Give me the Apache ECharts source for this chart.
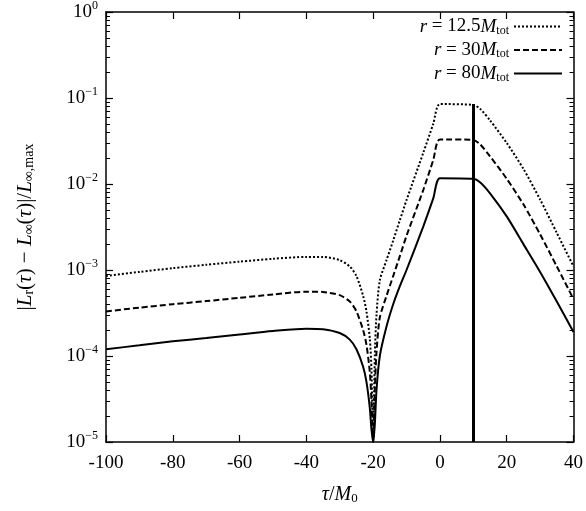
<!DOCTYPE html>
<html><head><meta charset="utf-8">
<script src="https://cdn.jsdelivr.net/npm/echarts@6/dist/echarts.min.js"></script>
<style>html,body{margin:0;padding:0;background:#fff}#c{width:586px;height:511px}</style>
</head><body><div id="c"></div>
<script>
const xs = [-100,-90,-80,-70,-60,-50,-40,-35,-30,-27,-25,-23,-22,-21,-20.5,-20,-19.5,-19,-18,-16,-14,-12,-10,-5,-2,0,10,12,15,20,25,30,35,40];
const r12 = [8.5e-4,9.5e-4,1.05e-3,1.15e-3,1.25e-3,1.35e-3,1.42e-3,1.42e-3,1.3e-3,1.1e-3,8.5e-4,5e-4,3.3e-4,1.6e-4,7e-5,1e-5,1e-4,3e-4,7.6e-4,1.3e-3,2.2e-3,3.8e-3,6.5e-3,0.023,0.05,0.085,0.083,0.075,0.055,0.03,0.015,0.0066,0.0027,0.0011];
const r30 = [3.3e-4,3.65e-4,4.0e-4,4.35e-4,4.75e-4,5.2e-4,5.6e-4,5.55e-4,5.1e-4,4.3e-4,3.3e-4,2e-4,1.35e-4,6.5e-5,3e-5,1e-5,4e-5,1.1e-4,2.8e-4,5e-4,8.5e-4,1.45e-3,2.5e-3,8.5e-3,0.019,0.033,0.0325,0.029,0.021,0.0115,0.0058,0.0026,0.0011,4.6e-4];
const r80 = [1.2e-4,1.33e-4,1.48e-4,1.62e-4,1.78e-4,1.95e-4,2.08e-4,2.05e-4,1.85e-4,1.55e-4,1.2e-4,7.5e-5,5e-5,2.5e-5,1.4e-5,1e-5,1.6e-5,4e-5,1e-4,2.2e-4,4e-4,6.5e-4,1e-3,3.2e-3,6.8e-3,0.0117,0.0115,0.0105,0.0078,0.0042,0.002,9.5e-4,4.3e-4,1.9e-4];
const xTicks = [-100,-80,-60,-40,-20,0,20,40];
const yTicks = [1e-5,1e-4,1e-3,1e-2,1e-1,1];
const peakX = 10, peakTop = 0.085;

const F = 'Liberation Serif';
const chart = echarts.init(document.getElementById('c'));
const pair = a => xs.map((x,i)=>[x,a[i]]);
const axCommon = {axisLine:{onZero:false,lineStyle:{color:'#000',width:1.5}},axisTick:{inside:true,length:7,lineStyle:{color:'#000',width:1.2}},splitLine:{show:false}};
const yLab = {fontFamily:F,fontSize:19,color:'#000',formatter:v=>'{b|10}{e|'+String(Math.round(Math.log10(v))).replace('-','−')+'}',rich:{b:{fontFamily:F,fontSize:19,color:'#000'},e:{fontFamily:F,fontSize:12,color:'#000',padding:[0,0,12,0]}}};
const mk = (name,data,type) => ({name,type:'line',data:pair(data),symbol:'none',smooth:0.25,xAxisIndex:0,yAxisIndex:0,lineStyle:{color:'#000',width:2,type},itemStyle:{color:'#000'}});
const s80 = mk('r80',r80,'solid');
s80.markLine = {symbol:'none',silent:true,label:{show:false},lineStyle:{color:'#000',width:3,type:'solid'},data:[[{coord:[peakX,1e-5]},{coord:[peakX,peakTop]}]]};
chart.setOption({
  animation:false,
  grid:{left:106,right:11,top:12,bottom:69},
  legend:{orient:'vertical',right:18,top:12,align:'right',itemWidth:48,itemHeight:14,itemGap:4,
    itemStyle:{opacity:0},
    data:['r12','r30','r80'],
    formatter:n=>({r12:'{i|r} = 12.5{i|M}{s|tot}',r30:'{i|r} = 30{i|M}{s|tot}',r80:'{i|r} = 80{i|M}{s|tot}'})[n],
    textStyle:{fontFamily:F,fontSize:19,color:'#000',rich:{i:{fontFamily:F,fontStyle:'italic',fontSize:19,color:'#000'},s:{fontFamily:F,fontSize:12,color:'#000',padding:[8,0,0,0]}}}},
  xAxis:[
    Object.assign({type:'value',min:-100,max:40,interval:20,position:'bottom',
      axisLabel:{fontFamily:F,fontSize:19,color:'#000',margin:12,formatter:v=>String(v)},
      name:'{i|τ}/{i|M}{s|0}',nameLocation:'middle',nameGap:42,
      nameTextStyle:{fontFamily:F,fontSize:20,color:'#000',rich:{i:{fontFamily:F,fontStyle:'italic',fontSize:20},s:{fontFamily:F,fontSize:13,padding:[8,0,0,0]}}}},axCommon),
    Object.assign({type:'value',min:-100,max:40,interval:20,position:'top',axisLabel:{show:false}},axCommon)
  ],
  yAxis:[
    Object.assign({type:'log',min:1e-5,max:1,logBase:10,position:'left',axisLabel:yLab,
      minorTick:{show:true,splitNumber:9,length:4,lineStyle:{color:'#000'}},
      name:'|{i|L}{s|r}({i|τ}) − {i|L}{s|∞}({i|τ})|/{i|L}{s|∞,max}',nameLocation:'middle',nameGap:70,nameRotate:90,
      nameTextStyle:{fontFamily:F,fontSize:21,color:'#000',rich:{i:{fontFamily:F,fontStyle:'italic',fontSize:21},s:{fontFamily:F,fontSize:14,padding:[8,0,0,0]}}}},axCommon),
    Object.assign({type:'log',min:1e-5,max:1,logBase:10,position:'right',axisLabel:{show:false},
      minorTick:{show:true,splitNumber:9,length:4,lineStyle:{color:'#000'}}},axCommon)
  ],
  series:[mk('r12',r12,[2,2]),mk('r30',r30,[6,3]),s80]
});
</script></body></html>
